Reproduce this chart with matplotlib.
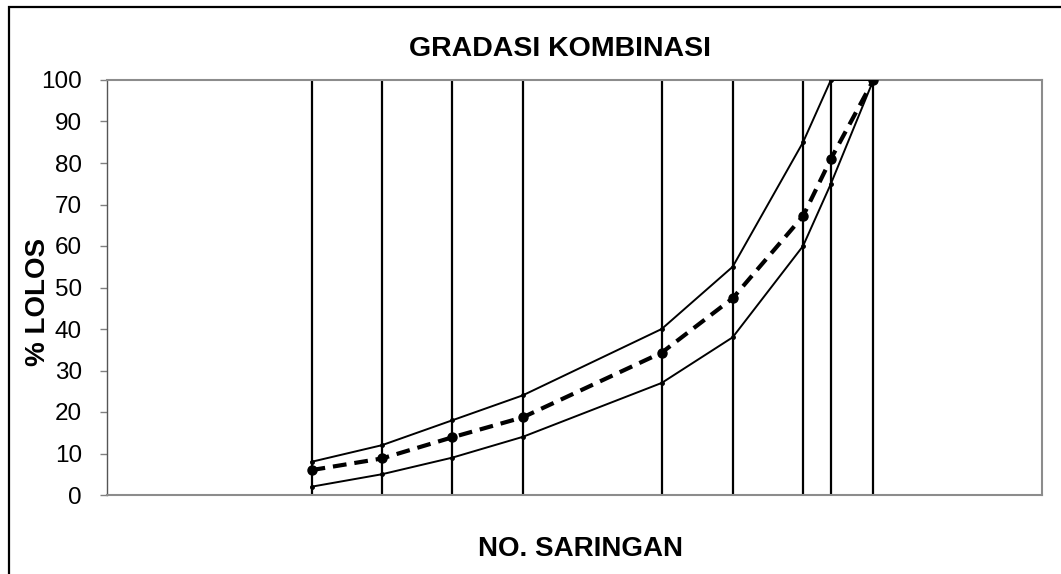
import numpy as np
import matplotlib
matplotlib.use("Agg")
import matplotlib.pyplot as plt
from matplotlib.patches import Rectangle

plt.rcParams['font.family'] = ['Liberation Sans', 'DejaVu Sans']

# sieve openings (mm) and percent passing
sieves = [0.075, 0.15, 0.3, 0.6, 2.36, 4.75, 9.5, 12.5, 19]
batasAtas = [8, 12, 18, 24, 40, 55, 85, 100, 100]
batasBawah = [2, 5, 9, 14, 27, 38, 60, 75, 100]
kombinasi = [6.0, 8.8, 13.9, 18.7, 34.3, 47.4, 67.2, 81.0, 100]
yTicks = [0, 10, 20, 30, 40, 50, 60, 70, 80, 90, 100]

W, H = 1061, 574
fig = plt.figure(figsize=(W / 100, H / 100), dpi=100)
ax = fig.add_axes([107 / W, 1 - 495 / H, (1042 - 107) / W, (495 - 80) / H])

# outer frame (runs off the right and bottom edge)
fig.patches.append(Rectangle((9 / W, -0.1), 1.2, 1 - 7 / H + 0.1, transform=fig.transFigure,
                             fill=False, edgecolor="black", linewidth=1.6, zorder=0))

ax.vlines(sieves, 0, 100, colors="black", linewidth=1.6, zorder=2)
ax.plot(sieves, batasAtas, color="black", linewidth=1.4, marker="o", markersize=2.5, zorder=3)
ax.plot(sieves, batasBawah, color="black", linewidth=1.4, marker="o", markersize=2.5, zorder=3)
ax.plot(sieves, kombinasi, color="black", linewidth=3.0, dashes=(3.3, 1.9),
        marker="o", markersize=6.5, zorder=4)

ax.set_xscale("log")
ax.set_xlim(0.01, 100)
ax.set_ylim(0, 100)
ax.set_yticks(yTicks)
ax.set_xticks([])
ax.minorticks_off()
ax.tick_params(axis="y", labelsize=17.5, length=5, width=1, color="#808080", pad=13)
for s in ax.spines.values():
    s.set_color("#8c8c8c")
    s.set_linewidth(1.5)
ax.spines["left"].set_color("#555555")
ax.spines["left"].set_linewidth(1.0)

fig.text(560 / W, 1 - 49 / H, "GRADASI KOMBINASI", ha="center", va="center",
         fontsize=20.5, fontweight="bold")
fig.text(581 / W, 1 - 549 / H, "NO. SARINGAN", ha="center", va="center",
         fontsize=20, fontweight="bold")
fig.text(38 / W, 1 - 302 / H, "% LOLOS", ha="center", va="center", rotation=90,
         fontsize=20, fontweight="bold")

fig.savefig("out.png", dpi=100)
